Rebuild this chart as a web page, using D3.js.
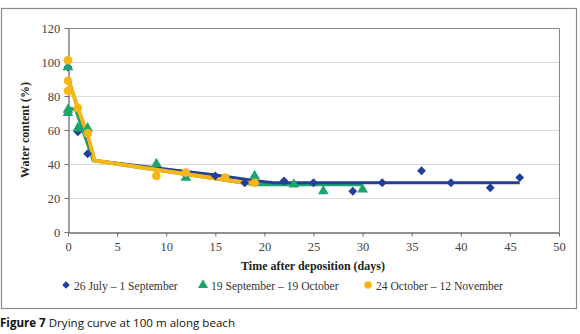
<!DOCTYPE html>
<html><head><meta charset="utf-8">
<script src="https://cdn.jsdelivr.net/npm/d3@7"></script>
<style>body{margin:0;background:#fff}svg{display:block}</style>
</head><body><svg id="c" width="580" height="334"></svg>
<script>
const seriesNames = ["26 July – 1 September", "19 September – 19 October", "24 October – 12 November"];
const seriesColors = ["#233E9B", "#1BA56B", "#F8B614"];
// observed points [day, water %]
const julyPts = [[0,97],[1,59],[2,46],[15,33],[18,29],[22,30],[25,29],[29,24],[32,29],[36,36],[39,29],[43,26],[46,32]];
const septPts = [[0,97],[0,72],[0,70],[1,61],[2,61],[9,40],[12,32],[19,33],[23,28],[26,24],[30,25]];
const octPts  = [[0,101],[0,89],[0,83],[1,73],[2,58],[9,33],[12,35],[16,32],[19,29]];
// fitted drying curves
const julyFit = [[0,91],[2.7,42],[15,33.5],[20,29.5],[21,29],[46,29]];
const septFit = [[0,73],[0.8,72],[2.6,42],[19,28],[30,28]];
const octFit  = [[0,90],[1,73],[2,57],[2.7,42],[18,29],[19,29]];
const xTicks = [0,5,10,15,20,25,30,35,40,45,50];
const yTicks = [0,20,40,60,80,100,120];

const svg = d3.select("#c");
const serif = "'Liberation Serif', 'DejaVu Serif', serif";
svg.append("rect").attr("x",1.5).attr("y",8.5).attr("width",575).attr("height",300)
  .attr("fill","none").attr("stroke","#8a8a8a").attr("stroke-width",1.2);

const x = d3.scaleLinear().domain([0,50]).range([68,559]);
const y = d3.scaleLinear().domain([0,120]).range([232,28]);

// grid
svg.append("g").selectAll("line").data(yTicks.filter(d=>d>0&&d<120)).join("line")
  .attr("x1",x(0)).attr("x2",x(50)).attr("y1",d=>y(d)+0.5).attr("y2",d=>y(d)+0.5)
  .attr("stroke","#dcdcdc").attr("stroke-width",1);
// frame top & right
svg.append("path").attr("d",`M${x(0)},${y(120)+0.5}H${x(50)+0.5}V${y(0)}`)
  .attr("fill","none").attr("stroke","#8a8a8a").attr("stroke-width",1);

const xa = svg.append("g").attr("transform",`translate(0,${y(0)+0.5})`)
  .call(d3.axisBottom(x).tickValues(xTicks).tickSize(4).tickSizeOuter(0));
const ya = svg.append("g").attr("transform",`translate(${x(0)+0.5},0)`)
  .call(d3.axisLeft(y).tickValues(yTicks).tickSize(4).tickSizeOuter(0));
[xa,ya].forEach(a=>{
  a.select(".domain").attr("stroke","#6d6d6d").attr("stroke-width",1.3);
  a.selectAll(".tick line").attr("stroke","#6d6d6d");
  a.selectAll("text").attr("font-family",serif).attr("font-size",12.5).attr("fill","#444");
});
xa.selectAll("text").attr("dy","0.9em");
ya.selectAll("text").attr("dx","-0.1em");

svg.append("text").attr("x",313).attr("y",270).attr("text-anchor","middle")
  .attr("font-family",serif).attr("font-weight","bold").attr("font-size",12).attr("fill","#222")
  .text("Time after deposition (days)");
svg.append("text").attr("transform",`translate(29,${y(60)}) rotate(-90)`).attr("text-anchor","middle")
  .attr("font-family",serif).attr("font-weight","bold").attr("font-size",12).attr("fill","#222")
  .text("Water content (%)");

const line = d3.line().x(d=>x(d[0])).y(d=>y(d[1]));
const fits = [julyFit, septFit, octFit];
const pts = [julyPts, septPts, octPts];
const widths = [3, 3.5, 4];
const symbols = [d3.symbolDiamond2, d3.symbolTriangle, d3.symbolCircle];
const sizes = [50, 50, 58];

[1,0,2].forEach(i=>{
  svg.append("path").datum(fits[i]).attr("d",line).attr("fill","none")
    .attr("stroke",seriesColors[i]).attr("stroke-width",widths[i]).attr("stroke-linejoin","round");
});
[0,1,2].forEach(i=>{
  svg.append("g").selectAll("path").data(pts[i]).join("path")
    .attr("transform",d=>`translate(${x(d[0])},${y(d[1])})`)
    .attr("d",d3.symbol(symbols[i], sizes[i])).attr("fill",seriesColors[i]);
});

// legend
const legX = [66, 203, 368];
seriesNames.forEach((n,i)=>{
  svg.append("path").attr("transform",`translate(${legX[i]},${285})`)
    .attr("d",d3.symbol(symbols[i], i===0?36:44)).attr("fill",seriesColors[i]);
  svg.append("text").attr("x",legX[i]+8).attr("y",289.5)
    .attr("font-family",serif).attr("font-size",11.6).attr("fill","#333").text(n);
});

// caption
const cap = svg.append("text").attr("x",0).attr("y",327).attr("font-family","'Open Sans','Liberation Sans',sans-serif")
  .attr("font-size",11.5).attr("fill","#111").attr("textLength",235).attr("lengthAdjust","spacingAndGlyphs");
cap.append("tspan").attr("font-weight","bold").text("Figure 7");
cap.append("tspan").text(" Drying curve at 100 m along beach");
</script></body></html>
